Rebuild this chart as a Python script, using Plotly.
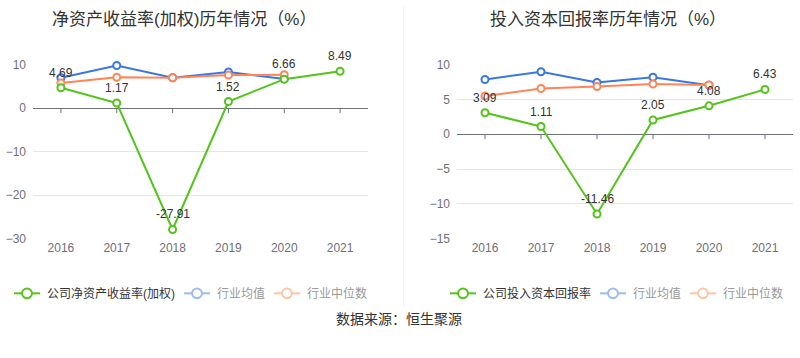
import plotly.graph_objects as go

years = ["2016", "2017", "2018", "2019", "2020", "2021"]

roe_company = [4.69, 1.17, -27.91, 1.52, 6.66, 8.49]
roe_ind_mean = [7.0, 9.8, 7.0, 8.3, 6.7]
roe_ind_median = [5.8, 7.1, 7.0, 7.6, 7.7]

roic_company = [3.09, 1.11, -11.46, 2.05, 4.08, 6.43]
roic_ind_mean = [7.87, 8.98, 7.45, 8.19, 7.04]
roic_ind_median = [5.5, 6.57, 6.85, 7.22, 7.08]

title_left = "净资产收益率(加权)历年情况（%）"
title_right = "投入资本回报率历年情况（%）"
legend_left = ["公司净资产收益率(加权)", "行业均值", "行业中位数"]
legend_right = ["公司投入资本回报率", "行业均值", "行业中位数"]
source_text = "数据来源：恒生聚源"

GREEN = "#52c41a"
BLUE = "#3a76e4"
ORANGE = "#ff8457"
GREEN_L = "#52c41a"
BLUE_L = "#9dbaf2"
ORANGE_L = "#ffc3aa"
FONT = "Liberation Sans, Noto Sans CJK SC, sans-serif"

W, H = 800, 358

def px_x(p):
    return p / W

def px_y(p):
    return 1 - p / H

fig = go.Figure()
annotations = []

def add_series(xa, ya, yvals, color, text=False):
    xs = years[:len(yvals)]
    fig.add_trace(go.Scatter(
        x=xs, y=yvals, xaxis=xa, yaxis=ya,
        mode="lines+markers",
        line=dict(color=color, width=2),
        marker=dict(symbol="circle", size=7, color="white",
                    line=dict(color=color, width=2)),
        cliponaxis=False,
        showlegend=False, hoverinfo="skip",
    ))
    if text:
        # category index positions on the category axis
        for i, yv in enumerate(yvals):
            annotations.append(dict(
                xref=xa, yref=ya, x=i, y=yv, yshift=15,
                text=f"{yv:.2f}", showarrow=False,
                xanchor="center", yanchor="middle",
                font=dict(size=12, color="#333333", family=FONT)))

add_series("x", "y", roe_ind_mean, BLUE)
add_series("x", "y", roe_ind_median, ORANGE)
add_series("x", "y", roe_company, GREEN, text=True)
add_series("x2", "y2", roic_ind_mean, BLUE)
add_series("x2", "y2", roic_ind_median, ORANGE)
add_series("x2", "y2", roic_company, GREEN, text=True)

ydom = [px_y(241), px_y(60)]
axis_common = dict(
    showline=False, ticks="", tickfont=dict(size=12, color="#6e7079", family=FONT),
)
fig.update_layout(
    width=W, height=H,
    margin=dict(l=0, r=0, t=0, b=0),
    paper_bgcolor="white", plot_bgcolor="white",
    font=dict(family=FONT),
    showlegend=False,
    xaxis=dict(domain=[px_x(33), px_x(368)], type="category", range=[-0.5, 5.5],
               showgrid=False, zeroline=False, anchor="y", **axis_common),
    yaxis=dict(domain=ydom, range=[-30, 10], dtick=10, showgrid=True,
               gridcolor="#e0e6f1", gridwidth=1, zeroline=True,
               zerolinecolor="#6e7079", zerolinewidth=1, anchor="x",
               ticklabelstandoff=6, **axis_common),
    xaxis2=dict(domain=[px_x(457), px_x(793)], type="category", range=[-0.5, 5.5],
                showgrid=False, zeroline=False, anchor="y2", **axis_common),
    yaxis2=dict(domain=ydom, range=[-15, 10], dtick=5, showgrid=True,
                gridcolor="#e0e6f1", gridwidth=1, zeroline=True,
                zerolinecolor="#6e7079", zerolinewidth=1, anchor="x2",
                ticklabelstandoff=6, **axis_common),
)

shapes = []
# tick marks on zero axis line (at category indices)
for xr, yr in (("x", "y"), ("x2", "y2")):
    for i in range(len(years)):
        shapes.append(dict(type="line", xref=xr, yref=yr, x0=i, x1=i,
                           ysizemode="pixel", yanchor=0, y0=0, y1=-5,
                           line=dict(color="#6e7079", width=1)))
# divider
shapes.append(dict(type="line", xref="paper", yref="paper",
                   x0=px_x(403.5), x1=px_x(403.5), y0=px_y(0), y1=px_y(312),
                   line=dict(color="#eeeeee", width=1)))

def legend_item(x_icon, text, color, text_color, y=298):
    shapes.append(dict(type="line", xref="paper", yref="paper",
                       x0=px_x(x_icon), x1=px_x(x_icon + 26), y0=px_y(y), y1=px_y(y),
                       line=dict(color=color, width=2)))
    cx = x_icon + 13
    r = 5
    shapes.append(dict(type="circle", xref="paper", yref="paper",
                       x0=px_x(cx - r), x1=px_x(cx + r), y0=px_y(y + r), y1=px_y(y - r),
                       fillcolor="white", line=dict(color=color, width=2)))
    annotations.append(dict(xref="paper", yref="paper", x=px_x(x_icon + 31), y=px_y(y),
                            text=text, showarrow=False, xanchor="left", yanchor="middle",
                            font=dict(size=12, color=text_color, family=FONT)))

legend_item(14, legend_left[0], GREEN_L, "#333333")
legend_item(184, legend_left[1], BLUE_L, "#999999")
legend_item(274, legend_left[2], ORANGE_L, "#999999")
legend_item(450, legend_right[0], GREEN_L, "#333333")
legend_item(600, legend_right[1], BLUE_L, "#999999")
legend_item(690, legend_right[2], ORANGE_L, "#999999")

annotations.append(dict(xref="paper", yref="paper", x=px_x(184), y=px_y(13),
                        text=title_left, showarrow=False, xanchor="center", yanchor="middle",
                        font=dict(size=17, color="#333333", family=FONT)))
annotations.append(dict(xref="paper", yref="paper", x=px_x(608), y=px_y(13),
                        text=title_right, showarrow=False, xanchor="center", yanchor="middle",
                        font=dict(size=17, color="#333333", family=FONT)))
annotations.append(dict(xref="paper", yref="paper", x=px_x(399), y=px_y(325),
                        text=source_text, showarrow=False, xanchor="center", yanchor="middle",
                        font=dict(size=14, color="#333333", family=FONT)))

fig.update_layout(shapes=shapes, annotations=annotations)
post = (
    "var s=document.createElement('style');"
    "s.innerHTML='html,body{margin:0;padding:0;width:800px;height:358px;overflow:hidden;}';"
    "document.head.appendChild(s);"
)
fig.write_html("out.html", config={"displayModeBar": False}, post_script=post)
